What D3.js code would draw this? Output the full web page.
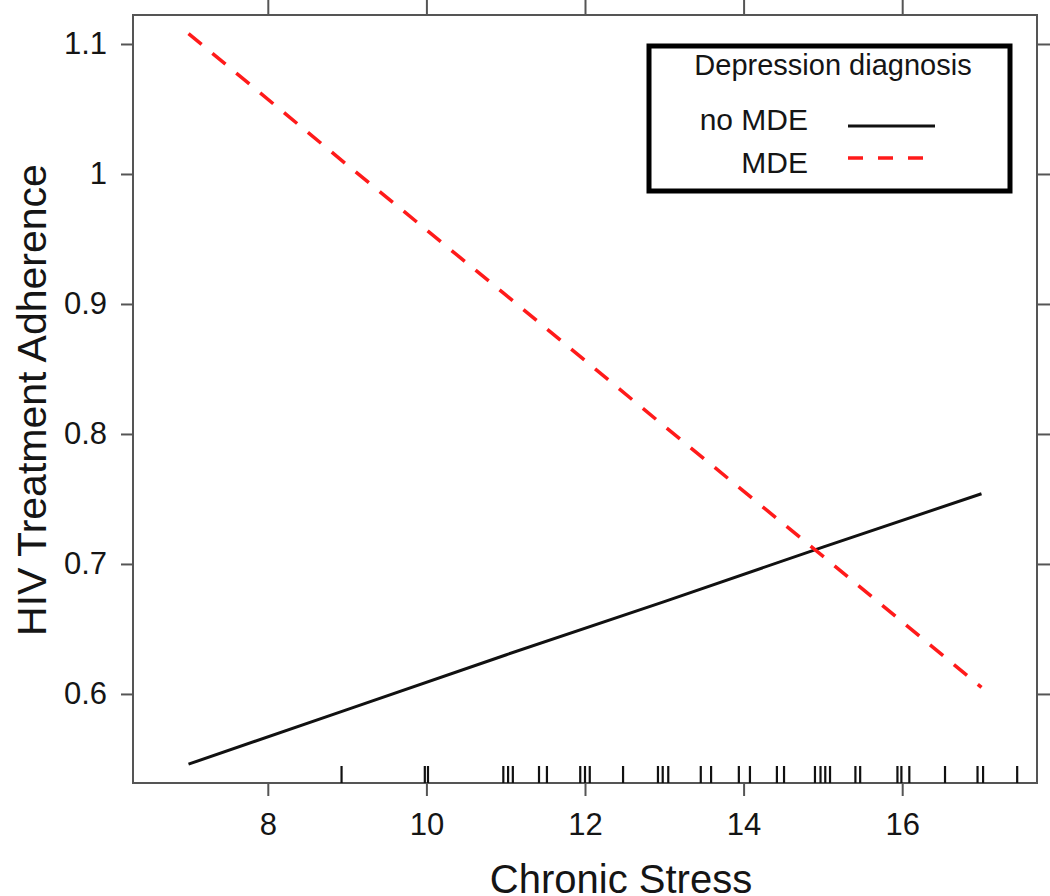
<!DOCTYPE html>
<html>
<head>
<meta charset="utf-8">
<script src="https://d3js.org/d3.v7.min.js"></script>
<style>
  body { margin: 0; background: #fff; }
  svg text { font-family: "Liberation Sans", Arial, sans-serif; fill: #151515; }
</style>
</head>
<body>
<script>
// values
var stress = [7, 9, 11, 13, 15, 17];
var noMDE = [0.546, 0.588, 0.630, 0.671, 0.713, 0.754];
var MDE = [1.108, 1.007, 0.907, 0.806, 0.706, 0.605];
var rugValues = [8.93, 9.98, 10.02, 10.97, 11.03, 11.09, 11.42, 11.52,
  11.94, 12.00, 12.06, 12.48, 12.92, 12.98, 13.05, 13.46, 13.59,
  13.94, 14.08, 14.42, 14.51, 14.90, 14.97, 15.03, 15.09, 15.41, 15.47,
  15.94, 15.99, 16.09, 16.54, 16.95, 17.02, 17.45];
var xTicks = [8, 10, 12, 14, 16];
var yTicks = [0.6, 0.7, 0.8, 0.9, 1, 1.1];
var seriesNames = ["no MDE", "MDE"];

(function() {
  var W = 1050, H = 896;
  var pLeft = 133, pRight = 1037, pTop = 15, pBottom = 783;

  var svg = d3.select("body").append("svg")
    .attr("width", W).attr("height", H);

  var x = d3.scaleLinear().domain([6.3, 17.7]).range([pLeft, pRight]);
  var y = d3.scaleLinear().domain([0.5315, 1.1223]).range([pBottom, pTop]);

  var frameColor = "#555";

  // axes (ticks only, the frame is drawn separately)
  var gx = svg.append("g").attr("transform", "translate(0," + pBottom + ")")
    .call(d3.axisBottom(x).tickValues(xTicks).tickSize(13).tickPadding(17).tickFormat(d3.format("d")));
  var gxt = svg.append("g").attr("transform", "translate(0," + pTop + ")")
    .call(d3.axisTop(x).tickValues(xTicks).tickSize(15).tickFormat(""));
  var gy = svg.append("g").attr("transform", "translate(" + pLeft + ",0)")
    .call(d3.axisLeft(y).tickValues(yTicks).tickSize(12).tickPadding(14).tickFormat(function(d) { return String(d); }));
  var gyr = svg.append("g").attr("transform", "translate(" + pRight + ",0)")
    .call(d3.axisRight(y).tickValues(yTicks).tickSize(13).tickFormat(""));

  [gx, gxt, gy, gyr].forEach(function(g) {
    g.select(".domain").remove();
    g.selectAll(".tick line").attr("stroke", frameColor).attr("stroke-width", 2);
    g.selectAll(".tick text").style("font-size", "31px").attr("fill", "#151515");
  });

  // frame
  svg.append("rect")
    .attr("x", pLeft).attr("y", pTop)
    .attr("width", pRight - pLeft).attr("height", pBottom - pTop)
    .attr("fill", "none").attr("stroke", frameColor).attr("stroke-width", 2);

  // rug
  svg.append("g").selectAll("line").data(rugValues).enter().append("line")
    .attr("x1", function(d) { return x(d); }).attr("x2", function(d) { return x(d); })
    .attr("y1", pBottom).attr("y2", pBottom - 17)
    .attr("stroke", "#111").attr("stroke-width", 2.2);

  // lines
  var line = d3.line()
    .x(function(d) { return x(d[0]); })
    .y(function(d) { return y(d[1]); });

  svg.append("path")
    .datum(stress.map(function(s, i) { return [s, noMDE[i]]; }))
    .attr("d", line).attr("fill", "none")
    .attr("stroke", "#111").attr("stroke-width", 3);

  svg.append("path")
    .datum(stress.map(function(s, i) { return [s, MDE[i]]; }))
    .attr("d", line).attr("fill", "none")
    .attr("stroke", "#ff1a1a").attr("stroke-width", 3.5)
    .attr("stroke-dasharray", "17,14");

  // axis titles
  svg.append("text")
    .attr("x", 621).attr("y", 893)
    .attr("text-anchor", "middle")
    .style("font-size", "40px")
    .text("Chronic Stress");

  svg.append("text")
    .attr("transform", "translate(46,400) rotate(-90)")
    .attr("text-anchor", "middle")
    .style("font-size", "41px")
    .text("HIV Treatment Adherence");

  // legend
  var lg = svg.append("g");
  lg.append("rect")
    .attr("x", 649).attr("y", 46).attr("width", 361).attr("height", 145)
    .attr("fill", "#fff").attr("stroke", "#000").attr("stroke-width", 5);
  lg.append("text")
    .attr("x", 833).attr("y", 75).attr("text-anchor", "middle")
    .style("font-size", "29px").attr("fill", "#333")
    .text("Depression diagnosis");
  lg.append("text")
    .attr("x", 808).attr("y", 130).attr("text-anchor", "end")
    .style("font-size", "30px").text(seriesNames[0]);
  lg.append("text")
    .attr("x", 808).attr("y", 173).attr("text-anchor", "end")
    .style("font-size", "30px").text(seriesNames[1]);
  lg.append("line")
    .attr("x1", 848).attr("x2", 935).attr("y1", 126).attr("y2", 126)
    .attr("stroke", "#111").attr("stroke-width", 3);
  lg.append("line")
    .attr("x1", 848).attr("x2", 935).attr("y1", 158).attr("y2", 158)
    .attr("stroke", "#ff1a1a").attr("stroke-width", 3.5)
    .attr("stroke-dasharray", "15,15");
})();
</script>
</body>
</html>
